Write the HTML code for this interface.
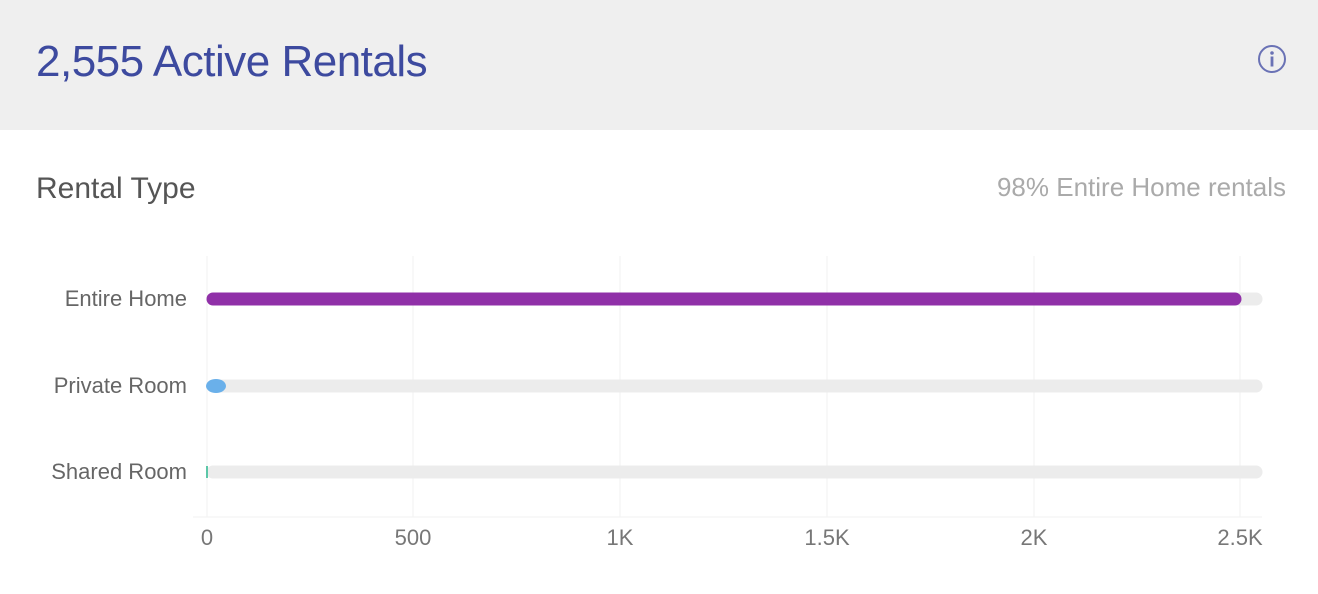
<!DOCTYPE html>
<html><head><style>
body{margin:0;width:1318px;height:594px;background:#fff;font-family:"Liberation Sans",sans-serif;overflow:hidden;position:relative}
.hdr{position:absolute;left:0;top:0;width:1318px;height:130px;background:#efefef}
.t{position:absolute;left:36px;top:37px;font-size:44px;color:#3d4a9f;letter-spacing:-0.5px}
.st{position:absolute;left:36px;top:172px;font-size:30px;color:#555}
.rt{position:absolute;right:32px;top:172px;font-size:26px;color:#aaa}
.lbl{position:absolute;right:1131px;font-size:22px;color:#666}
.tk{position:absolute;top:525px;font-size:22px;color:#777;width:100px;text-align:center}
</style></head><body>
<div class="hdr"></div>
<div class="t">2,555 Active Rentals</div>
<svg style="position:absolute;left:1256px;top:43px" width="32" height="32"><circle cx="16" cy="16" r="13" fill="none" stroke="#6a72b5" stroke-width="2"/><circle cx="16" cy="10" r="1.8" fill="#6a72b5"/><rect x="14.6" y="13.5" width="2.8" height="10" fill="#6a72b5"/></svg>
<div class="st">Rental Type</div>
<div class="rt">98% Entire Home rentals</div>
<svg style="position:absolute;left:0;top:0" width="1318" height="594">
<g stroke="#f2f2f2" stroke-width="1">
<line x1="207" y1="256" x2="207" y2="517"/><line x1="413" y1="256" x2="413" y2="517"/><line x1="620" y1="256" x2="620" y2="517"/><line x1="827" y1="256" x2="827" y2="517"/><line x1="1034" y1="256" x2="1034" y2="517"/><line x1="1240" y1="256" x2="1240" y2="517"/>
<line x1="193" y1="517" x2="1262" y2="517"/>
</g>
<g stroke-linecap="round" stroke-width="13">
<line x1="213" y1="299" x2="1256" y2="299" stroke="#ececec"/>
<line x1="213" y1="386" x2="1256" y2="386" stroke="#ececec"/>
<line x1="213" y1="472" x2="1256" y2="472" stroke="#ececec"/>
<line x1="213" y1="299" x2="1235" y2="299" stroke="#9030a8"/>
</g>
<ellipse cx="216" cy="386" rx="10" ry="7" fill="#6ab0ea"/>
<rect x="206" y="466" width="2" height="12" fill="#5cc7a8"/>
</svg>
<div class="lbl" style="top:286px">Entire Home</div>
<div class="lbl" style="top:373px">Private Room</div>
<div class="lbl" style="top:459px">Shared Room</div>
<div class="tk" style="left:157px">0</div>
<div class="tk" style="left:363px">500</div>
<div class="tk" style="left:570px">1K</div>
<div class="tk" style="left:777px">1.5K</div>
<div class="tk" style="left:984px">2K</div>
<div class="tk" style="left:1190px">2.5K</div>
</body></html>
